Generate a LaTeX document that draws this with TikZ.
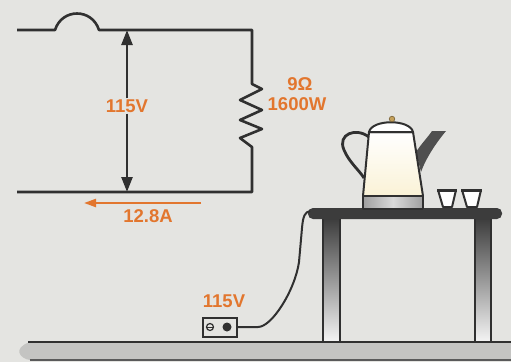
\documentclass[tikz,border=0pt]{standalone}
\usepackage{fontspec}
\setmainfont{Liberation Sans}
\usetikzlibrary{arrows.meta}
\definecolor{paper}{RGB}{228,228,225}
\definecolor{ink}{RGB}{48,48,48}
\definecolor{valueorange}{RGB}{226,118,46}
\definecolor{floorgray}{RGB}{196,196,194}
\definecolor{tabletop}{RGB}{60,60,60}
\definecolor{brass}{RGB}{196,160,90}
\definecolor{cream}{RGB}{250,242,214}
\begin{document}
\begin{tikzpicture}[x=1pt,y=-1pt,
  wire/.style={draw=ink,line width=2.6pt,line join=round},
  valuelabel/.style={text=valueorange,font=\bfseries\fontsize{18.5}{18.5}\selectfont,inner sep=1pt},
  outline/.style={draw=ink,line width=2pt,line join=round},
  leg/.style={top color=tabletop,bottom color=white!92!gray},
]
\fill[paper] (0,0) rectangle (511,362);
\useasboundingbox (0,0) rectangle (511,362);

% ---------------- circuit ----------------
\coordinate (inL) at (17,30);
\coordinate (fuseA) at (55,30);
\coordinate (fuseB) at (99,30);
\coordinate (topR) at (252,30);
\coordinate (resTop) at (252,84);
\coordinate (resBot) at (252,147);
\coordinate (botR) at (252,192);
\coordinate (outL) at (17,192);
\coordinate (vTop) at (127,30);
\coordinate (vBot) at (127,192);
\coordinate (iStart) at (201,203);
\coordinate (iEnd) at (84,203);

% supply line with fuse and load resistor
\draw[wire] (inL) -- (fuseA) .. controls (62,8) and (92,8) .. (fuseB) -- (topR)
  -- (resTop) -- ++(10,5) -- ++(-22,11) -- ++(22,10) -- ++(-22,10)
  -- ++(22,9) -- ++(-22,9) -- (resBot) -- (botR) -- (outL);

% voltage across the load
\node[valuelabel] (vlab) at (127,106) {115V};
\draw[ink,line width=2.6pt,-{Triangle[width=11pt,length=15pt]}] (vlab.north) -- (vTop);
\draw[ink,line width=2.6pt,-{Triangle[width=11pt,length=15pt]}] (vlab.south) -- (vBot);

% current in the return wire
\draw[valueorange,line width=2.2pt,-{Triangle[width=8pt,length=12pt]}] (iStart) -- (iEnd);
\node[valuelabel] (ilab) at (148,216) {12.8A};

% resistor rating
\node[valuelabel] (rohm) at (300,84) {9Ω};
\node[valuelabel] (rwatt) at (297,104) {1600W};

% ---------------- scene ----------------
% table legs
\shade[leg] (323,218) rectangle (340,342);
\draw[ink,line width=2pt] (323,218) rectangle (340,342);
\shade[leg] (475,218) rectangle (491,342);
\draw[ink,line width=2pt] (475,218) rectangle (491,342);

% floor
\fill[floorgray] (30,342) -- (511,342) -- (511,360) -- (30,360)
  .. controls (20,359) and (12,348) .. (30,342) -- cycle;
\draw[ink,line width=1.8pt] (28,342) -- (511,342);
\draw[ink!80,line width=1.4pt] (30,360) -- (511,360);

% table top
\fill[tabletop,rounded corners=5pt] (308,208) rectangle (502,219);

% kettle handle
\draw[ink,line width=2.8pt] (369,137) .. controls (356,127) and (337,134) .. (344,150)
  .. controls (349,162) and (359,170) .. (364,178);
% kettle spout
\fill[ink!85] (416,152) .. controls (422,143) and (428,137) .. (432,131) -- (446,131)
  .. controls (436,143) and (426,158) .. (421,172) -- cycle;
% kettle body
\shade[top color=white,bottom color=cream] (369,132) -- (413,132) -- (423,196) -- (363,196) -- cycle;
\draw[outline] (369,132) -- (413,132) -- (423,196) -- (363,196) -- cycle;
% kettle base
\shade[left color=gray!75,right color=gray!75,middle color=gray!30] (363,196) -- (423,196) -- (423,209) -- (363,209) -- cycle;
\draw[outline] (363,196) -- (423,196) -- (423,209) -- (363,209) -- cycle;
% kettle lid and knob
\filldraw[fill=white,outline] (369,132) .. controls (372,119) and (410,119) .. (413,132) -- cycle;
\filldraw[fill=brass,draw=brass!60!black,line width=0.6pt] (392,119) circle (2.8pt);

% cups
\filldraw[fill=white,outline] (438,190) -- (456,190) -- (452,207) -- (443,207) -- cycle;
\draw[ink,line width=3pt] (437,190) -- (457,190);
\filldraw[fill=white,outline] (462,190) -- (481,190) -- (477,207) -- (467,207) -- cycle;
\draw[ink,line width=3pt] (461,190) -- (482,190);

% wall outlet and cord
\node[draw=ink,line width=2pt,fill=paper,minimum width=34pt,minimum height=19pt,inner sep=0pt] (outlet) at (219.5,327) {};
\node[draw=ink,line width=1.2pt,circle,minimum size=7pt,inner sep=0pt] (sockA) at (210,327) {};
\draw[ink,line width=1pt] (sockA.west) -- (sockA.east);
\node[fill=ink,circle,minimum size=9pt,inner sep=0pt] (sockB) at (227,327) {};
\node[valuelabel] (olab) at (224,301) {115V};
\draw[ink,line width=2pt] (outlet.east) -- (258,327)
  .. controls (272,327) and (295,290) .. (299,262) -- (302,228)
  .. controls (303,216) and (305,212) .. (310,211);
\end{tikzpicture}
\end{document}
